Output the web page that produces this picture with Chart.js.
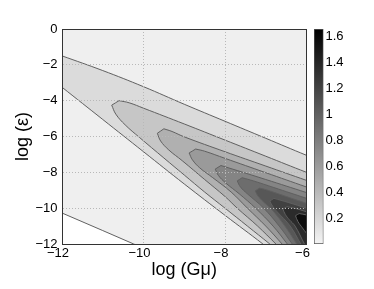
<!DOCTYPE html>
<html><head><meta charset="utf-8">
<script src="https://cdn.jsdelivr.net/npm/chart.js@4"></script>
<style>
html,body{margin:0;padding:0;background:#fff;}
#wrap{position:relative;width:374px;height:289px;overflow:hidden;}
#main{position:absolute;left:0;top:0;width:374px;height:289px;}
#cbar{position:absolute;left:300px;top:0;width:74px;height:289px;}
</style></head><body>
<div id="wrap"><canvas id="main" width="374" height="289"></canvas><canvas id="cbar" width="74" height="289"></canvas></div>
<script>
// ---- axis ticks ----
const xTicks = [-12, -10, -8, -6];
const yTicks = [-12, -10, -8, -6, -4, -2, 0];
const cbarTicks = [0.2, 0.4, 0.6, 0.8, 1, 1.2, 1.4, 1.6];
const cbarRange = [0, 1.66];
const xTitle = 'log (G\u03bc)';
const yTitle = 'log (\u03b5)';

// ---- fill colours of the contour bands (lowest to highest) ----
const bandColors = ['#ffffff', '#efefef', '#dbdbdb', '#c6c6c6', '#b0b0b0', '#9a9a9a',
                    '#848484', '#6d6d6d', '#575757', '#414141', '#2b2b2b', '#0d0d0d'];

// ---- contour lines: [log Gmu, log eps] ----
const c1Line  = [[-13, -9.29], [-12, -10.27], [-11, -11.25], [-10.24, -12], [-9.6, -12.63]];
const c2Upper = [[-5.5, -7.5], [-6, -7.05], [-7, -6.1], [-8, -5.15], [-9, -4.2], [-10, -3.22], [-11, -2.32], [-12, -1.5], [-12.5, -1.1]];
const c2Lower = [[-12.5, -2.35], [-12, -3.25], [-11, -5.05], [-10, -6.85], [-9, -8.65], [-8, -10.4], [-7.07, -12], [-6.75, -12.6]];
const c3Upper = [[-5.5, -8.42], [-6, -8.0], [-7, -7.1], [-8, -6.2], [-9, -5.3], [-10, -4.42], [-10.35, -4.12], [-10.6, -4.0]];
const c3Lower = [[-10.78, -4.25], [-10.68, -4.75], [-10.45, -5.35], [-10.1, -6.05], [-9.5, -7.2], [-9, -8.15], [-8.5, -9.1], [-8, -10.0], [-7.45, -11.0], [-6.9, -12], [-6.58, -12.6]];
const c4Upper = [[-5.5, -8.85], [-6, -8.45], [-7, -7.65], [-8, -6.85], [-9, -6.02], [-9.3, -5.72], [-9.5, -5.57]];
const c4Lower = [[-9.66, -5.82], [-9.58, -6.25], [-9.38, -6.75], [-9.05, -7.35], [-8.5, -8.4], [-8, -9.35], [-7.7, -10.0], [-7.2, -11.0], [-6.75, -12], [-6.48, -12.6]];
const c5Upper = [[-5.5, -9.22], [-6, -8.82], [-7, -8.02], [-8, -7.22], [-8.5, -6.82], [-8.72, -6.7]];
const c5Lower = [[-8.88, -6.92], [-8.8, -7.3], [-8.62, -7.75], [-8.3, -8.3], [-7.85, -9.1], [-7.45, -10.0], [-7.0, -11.0], [-6.6, -12], [-6.38, -12.6]];
const c6Upper = [[-5.5, -9.5], [-6, -9.13], [-7, -8.4], [-7.7, -7.9], [-8.1, -7.62]];
const c6Lower = [[-8.24, -7.82], [-8.16, -8.18], [-7.98, -8.6], [-7.65, -9.2], [-7.25, -10.0], [-6.82, -11.0], [-6.47, -12], [-6.27, -12.6]];
const c7Upper = [[-5.5, -9.82], [-6, -9.45], [-6.8, -8.85], [-7.3, -8.48], [-7.58, -8.3]];
const c7Lower = [[-7.7, -8.48], [-7.62, -8.82], [-7.45, -9.2], [-7.05, -10.0], [-6.67, -11.0], [-6.35, -12], [-6.17, -12.6]];
const c8Upper = [[-5.5, -10.1], [-6, -9.73], [-6.6, -9.27], [-6.95, -9.0], [-7.15, -8.88]];
const c8Lower = [[-7.26, -9.04], [-7.18, -9.35], [-7.02, -9.72], [-6.86, -10.05], [-6.53, -11.0], [-6.24, -12], [-6.07, -12.6]];
const c9Upper = [[-5.5, -10.37], [-6, -10.0], [-6.45, -9.68], [-6.8, -9.45]];
const c9Lower = [[-6.9, -9.6], [-6.83, -9.9], [-6.72, -10.2], [-6.4, -11.0], [-6.14, -12], [-5.98, -12.6]];
const c10Upper = [[-5.5, -10.55], [-6, -10.2], [-6.3, -10.0], [-6.48, -9.92]];
const c10Lower = [[-6.58, -10.05], [-6.52, -10.35], [-6.42, -10.65], [-6.28, -11.0], [-6.05, -12], [-5.9, -12.6]];
const c11Upper = [[-5.5, -10.7], [-6, -10.38], [-6.18, -10.3]];
const c11Lower = [[-6.27, -10.42], [-6.21, -10.75], [-6.1, -11.1], [-6.0, -11.4], [-5.8, -11.95]];

// ---- build closed shapes (closing edges lie outside the plot) ----
const toXY = pts => pts.map(([x, y]) => ({x, y}));
function closedBand(upper, lower) {
  const first = upper[0], last = lower[lower.length - 1];
  const corner = [first[0], last[1]];
  return [...upper, upper[upper.length - 1], lower[0], ...lower, last, corner, corner, first];
}
// each shape with the band it fills (index into bandColors)
const shapes = [
  {band: 1, pts: [[-13, 1], [-5, 1], [-5, -13], [-13, -13], [-13, 1]], edge: false},
  {band: 0, pts: [...c1Line, c1Line[c1Line.length - 1], [-13, -12.63], [-13, -12.63], c1Line[0]], edge: true},
  {band: 2, pts: closedBand(c2Upper, c2Lower), edge: true},
  {band: 3, pts: closedBand(c3Upper, c3Lower), edge: true},
  {band: 4, pts: closedBand(c4Upper, c4Lower), edge: true},
  {band: 5, pts: closedBand(c5Upper, c5Lower), edge: true},
  {band: 6, pts: closedBand(c6Upper, c6Lower), edge: true},
  {band: 7, pts: closedBand(c7Upper, c7Lower), edge: true},
  {band: 8, pts: closedBand(c8Upper, c8Lower), edge: true},
  {band: 9, pts: closedBand(c9Upper, c9Lower), edge: true},
  {band: 10, pts: closedBand(c10Upper, c10Lower), edge: true},
  {band: 11, pts: closedBand(c11Upper, c11Lower), edge: true}
];
const lineColor = '#606060';
const datasets = shapes.map((s, i) => ({
  data: toXY(s.pts),
  xAxisID: 'x', yAxisID: 'y',
  fill: 'shape',
  backgroundColor: bandColors[s.band],
  borderColor: s.edge ? lineColor : 'rgba(0,0,0,0)',
  borderWidth: 1,
  tension: i < 2 ? 0 : 0.4,
  pointRadius: 0,
  clip: 0,
  order: shapes.length - i
}));

const FONT = "'Liberation Sans', Arial, Helvetica, sans-serif";
const fmt = v => String(v).replace('-', '\u2212');

new Chart(document.getElementById('main'), {
  type: 'line',
  data: {datasets},
  options: {
    responsive: false, animation: false, events: [],
    plugins: {legend: {display: false}, tooltip: {enabled: false}},
    layout: {padding: {top: 29, right: 67.5, left: 0, bottom: 0}},
    elements: {line: {capBezierPoints: false}},
    scales: {
      x: {
        type: 'linear', position: 'bottom', min: -12, max: -6,
        afterBuildTicks: s => { s.ticks = xTicks.map(v => ({value: v})); },
        afterFit: s => { s.height = 45; },
        ticks: {callback: fmt, font: {family: FONT, size: 13}, color: '#000', padding: 2, labelOffset: -4, maxRotation: 0, autoSkip: false},
        grid: {color: '#b8b8b8', lineWidth: 1, drawTicks: false, z: 1},
        border: {display: true, color: '#333', width: 1, dash: [1, 2], z: 2},
        title: {display: true, text: xTitle, font: {family: FONT, size: 18}, color: '#000', padding: {top: 0, bottom: 8}}
      },
      y: {
        type: 'linear', position: 'left', min: -12, max: 0,
        afterBuildTicks: s => { s.ticks = yTicks.map(v => ({value: v})); },
        afterFit: s => { s.width = 62; },
        ticks: {callback: fmt, font: {family: FONT, size: 13}, color: '#000', padding: 4.5, autoSkip: false},
        grid: {color: '#b8b8b8', lineWidth: 1, drawTicks: false, z: 1},
        border: {display: true, color: '#333', width: 1, dash: [1, 2], z: 2},
        title: {display: true, text: yTitle, font: {family: FONT, size: 18}, color: '#000', padding: {top: 12, bottom: 0}}
      },
      x2: {
        type: 'linear', position: 'top', min: -12, max: -6,
        afterFit: s => { s.height = 0; },
        ticks: {display: false}, grid: {display: false, drawTicks: false},
        border: {display: true, color: '#333', width: 1, z: 2}
      },
      y2: {
        type: 'linear', position: 'right', min: -12, max: 0,
        afterFit: s => { s.width = 0; },
        ticks: {display: false}, grid: {display: false, drawTicks: false},
        border: {display: true, color: '#333', width: 1, z: 2}
      }
    }
  }
});

// ---- colour bar ----
new Chart(document.getElementById('cbar'), {
  type: 'bar',
  data: {
    labels: ['cb'],
    datasets: [{
      data: [cbarRange],
      backgroundColor: c => {
        const a = c.chart.chartArea;
        if (!a) return '#888';
        const g = c.chart.ctx.createLinearGradient(0, a.bottom, 0, a.top);
        g.addColorStop(0, '#f4f4f4');
        g.addColorStop(1, '#000000');
        return g;
      },
      borderColor: '#555', borderWidth: 1, borderSkipped: false,
      barPercentage: 1, categoryPercentage: 1
    }]
  },
  options: {
    responsive: false, animation: false, events: [],
    plugins: {legend: {display: false}, tooltip: {enabled: false}},
    layout: {padding: {top: 29, bottom: 45, left: 14, right: 0}},
    scales: {
      x: {display: false},
      y: {
        position: 'right', min: cbarRange[0], max: cbarRange[1],
        afterBuildTicks: s => { s.ticks = cbarTicks.map(v => ({value: v})); },
        afterFit: s => { s.width = 50.5; },
        ticks: {callback: v => String(v), font: {family: FONT, size: 13}, color: '#000', padding: 2},
        grid: {display: false, drawTicks: false},
        border: {display: false}
      }
    }
  }
});
</script>
</body></html>
